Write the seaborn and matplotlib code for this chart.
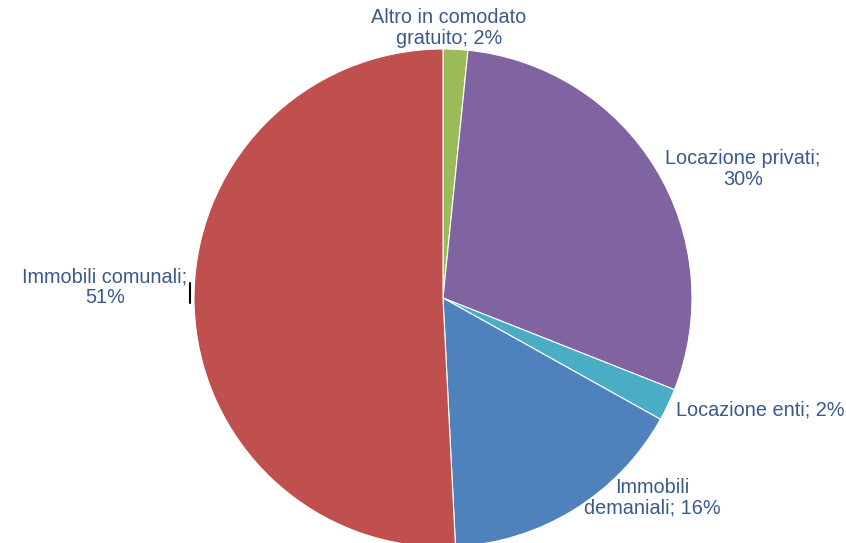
import matplotlib
matplotlib.use("Agg")
import matplotlib.pyplot as plt
import seaborn as sns

sns.set_theme(style="white")
plt.rcParams['font.family'] = ['Liberation Sans', 'DejaVu Sans']

categories = ["Altro in comodato\ngratuito", "Locazione privati", "Locazione enti",
              "Immobili\ndemaniali", "Immobili comunali"]
values = [1.6, 29.4, 2.1, 16.1, 50.8]
pct_labels = ["2%", "30%", "2%", "16%", "51%"]
label_text = ["Altro in comodato\ngratuito; 2%", "Locazione privati;\n30%",
              "Locazione enti; 2%", "Immobili\ndemaniali; 16%", "Immobili comunali;\n51%"]
colors = ["#9BBB59", "#8064A2", "#4BACC6", "#4F81BD", "#C0504D"]

fig = plt.figure(figsize=(8.46, 5.43), dpi=100)
R = 249
cx, cy = 443, 298
# label centres in pixels, converted to pie units
label_px = [(449, 28), (743, 169), (760, 410), (652, 498), (105, 287)]
label_pos = [((px - cx) / R, (cy - py) / R) for px, py in label_px]

ax = fig.add_axes([(cx - R) / 846, (543 - cy - R) / 543, 2 * R / 846, 2 * R / 543])
ax.pie(values, colors=colors, startangle=90, counterclock=False,
       wedgeprops=dict(edgecolor="white", linewidth=0.8), radius=1.0)
ax.set_xlim(-1, 1)
ax.set_ylim(-1, 1)
ax.set_aspect("equal")
ax.axis("off")

for txt, (x, y) in zip(label_text, label_pos):
    ax.text(x, y, txt, ha="center", va="center", fontsize=14.3, color="#3A5A8A",
            linespacing=1.08, clip_on=False)

# small leader tick next to the "Immobili comunali" label
tx = (190 - cx) / R
ax.plot([tx, tx], [(cy - 283) / R, (cy - 303) / R], color="black", linewidth=1.5, clip_on=False)

fig.savefig("out.png", dpi=100)
